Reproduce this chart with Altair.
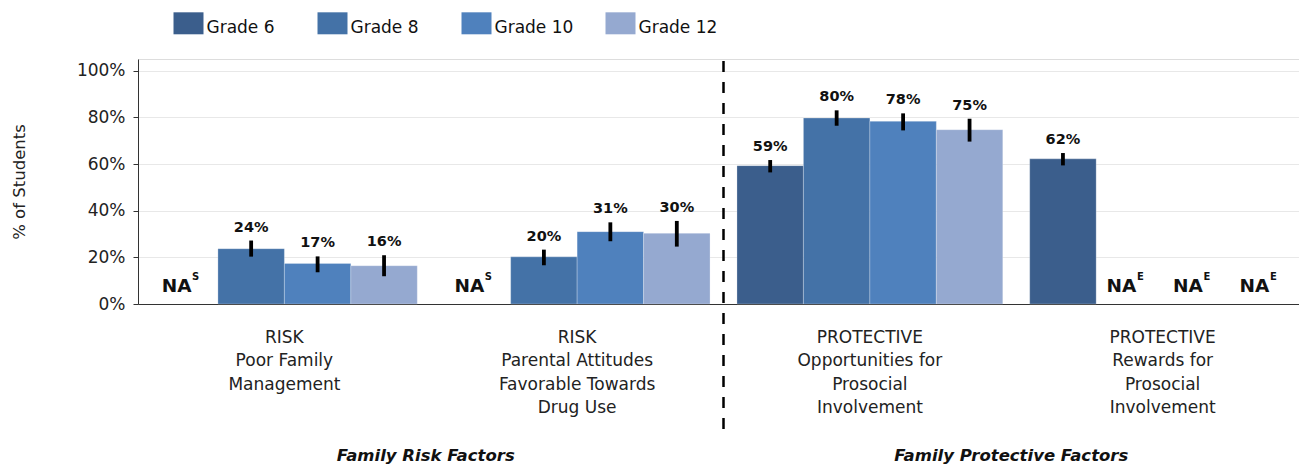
import altair as alt
import pandas as pd

# ---- data ----
groups = [
    "RISK|Poor Family|Management",
    "RISK|Parental Attitudes|Favorable Towards|Drug Use",
    "PROTECTIVE|Opportunities for|Prosocial|Involvement",
    "PROTECTIVE|Rewards for|Prosocial|Involvement",
]
grades = ["Grade 6", "Grade 8", "Grade 10", "Grade 12"]
colors = ["#3b5e8c", "#4472a7", "#4f81bd", "#95a9d0"]

bar_group_idx = [0, 0, 0, 1, 1, 1, 2, 2, 2, 2, 3]
bar_grades = ["Grade 8", "Grade 10", "Grade 12",
              "Grade 8", "Grade 10", "Grade 12",
              "Grade 6", "Grade 8", "Grade 10", "Grade 12",
              "Grade 6"]
bar_values = [23.7, 17.4, 16.4, 20.2, 31.0, 30.3, 59.3, 79.7, 78.3, 74.7, 62.2]
err_low = [20.3, 13.6, 11.9, 16.6, 26.9, 24.6, 56.4, 76.4, 74.4, 69.6, 59.4]
err_high = [27.2, 20.4, 20.9, 23.3, 35.0, 35.6, 61.7, 83.0, 81.7, 79.4, 64.7]

na_group_idx = [0, 1, 3, 3, 3]
na_grades = ["Grade 6", "Grade 6", "Grade 8", "Grade 10", "Grade 12"]
na_marks = ["S", "S", "E", "E", "E"]

section_titles = ["Family Risk Factors", "Family Protective Factors"]
y_ticks = [0, 20, 40, 60, 80, 100]

# ---- tables ----
bar_df = pd.DataFrame({
    "group": [groups[i] for i in bar_group_idx],
    "grade": bar_grades,
    "value": bar_values,
    "lo": err_low,
    "hi": err_high,
})
bar_df["label"] = [f"{int(round(v))}%" for v in bar_values]

na_df = pd.DataFrame({
    "group": [groups[i] for i in na_group_idx],
    "grade": na_grades,
    "na": ["NA"] * len(na_grades),
    "sup": na_marks,
})

W, H = 1161, 245
XR = 1171  # x range runs slightly past the right edge, as in the original
FONT = "DejaVu Sans"

x_enc = alt.X(
    "group:N",
    scale=alt.Scale(domain=groups, range=[0, XR], paddingInner=0.092, paddingOuter=0.046),
    title=None,
    axis=alt.Axis(
        labelExpr="split(datum.label, '|')",
        ticks=False,
        labelPadding=25,
        labelFontSize=17,
        labelLineHeight=23.5,
        labelAngle=0,
        labelLimit=300,
        labelColor="#222222",
        domainColor="#333333",
        grid=False,
    ),
)
xo_enc = alt.XOffset("grade:N", scale=alt.Scale(domain=grades, paddingInner=0, paddingOuter=0))
y_scale = alt.Scale(domain=[0, 105], nice=False)

bars = alt.Chart(bar_df).mark_bar(stroke="white", strokeWidth=0.5, strokeOpacity=0.5).encode(
    x=x_enc,
    xOffset=xo_enc,
    y=alt.Y(
        "value:Q",
        scale=y_scale,
        title="% of Students",
        axis=alt.Axis(
            values=y_ticks,
            labelExpr="datum.value + '%'",
            grid=True,
            gridColor="#e8e8e8",
            domainColor="#333333",
            tickColor="#333333",
            tickSize=5,
            labelFontSize=17,
            labelPadding=8,
            labelColor="#222222",
            titleFontSize=16.5,
            titleFontWeight="normal",
            titleColor="#222222",
            titleX=-114,
            titleY=H / 2,
            titleBaseline="alphabetic",
        ),
    ),
    color=alt.Color(
        "grade:N",
        scale=alt.Scale(domain=grades, range=colors),
        legend=alt.Legend(
            title=None,
            orient="none",
            legendX=35.5,
            legendY=-46,
            direction="horizontal",
            columns=4,
            symbolType="M-1,-1.046H1V0.42H-1Z",
            symbolSize=900,
            symbolStrokeWidth=0,
            symbolOpacity=1,
            labelFontSize=17,
            labelOffset=3,
            labelColor="#111111",
            columnPadding=32,
            gridAlign="all",
            padding=0,
        ),
    ),
)

errs = alt.Chart(bar_df).mark_rule(strokeWidth=3.8, color="black").encode(
    x=x_enc, xOffset=xo_enc, y=alt.Y("lo:Q", scale=y_scale), y2="hi:Q"
)

labels = alt.Chart(bar_df).mark_text(
    fontSize=14.5, fontWeight="bold", baseline="alphabetic", dy=-9, color="#111111"
).encode(x=x_enc, xOffset=xo_enc, y=alt.Y("hi:Q", scale=y_scale), text="label:N")

na_text = alt.Chart(na_df).mark_text(
    fontSize=18.5, fontWeight="bold", baseline="alphabetic", dx=-8, dy=-12, color="#111111"
).encode(x=x_enc, xOffset=xo_enc, y=alt.datum(0), text="na:N")

na_sup = alt.Chart(na_df).mark_text(
    fontSize=10, fontWeight="bold", baseline="alphabetic", dx=11, dy=-24, color="#111111"
).encode(x=x_enc, xOffset=xo_enc, y=alt.datum(0), text="sup:N")

dash = alt.Chart(pd.DataFrame({"d": [0]})).mark_rule(
    strokeDash=[11, 10], strokeWidth=2.5, color="black", clip=False
).encode(x=alt.value(XR / 2), y=alt.value(2), y2=alt.value(375))

t1 = alt.Chart(pd.DataFrame({"d": [0]})).mark_text(
    fontSize=16.5, fontWeight="bold", fontStyle="italic", baseline="middle", color="#111111"
).encode(x=alt.value(XR / 4 - 5), y=alt.value(397), text=alt.value(section_titles[0]))

t2 = alt.Chart(pd.DataFrame({"d": [0]})).mark_text(
    fontSize=16.5, fontWeight="bold", fontStyle="italic", baseline="middle", color="#111111"
).encode(x=alt.value(3 * XR / 4 - 5), y=alt.value(397), text=alt.value(section_titles[1]))

chart = alt.layer(bars, errs, labels, na_text, na_sup, dash, t1, t2).properties(
    width=W,
    height=H,
    padding={"left": 130, "top": 51, "right": 0, "bottom": 164},
    autosize=alt.AutoSizeParams(type="none"),
).configure_view(stroke=None).configure(font=FONT)

chart.save("out.html", embed_options={"renderer": "svg", "actions": False})
